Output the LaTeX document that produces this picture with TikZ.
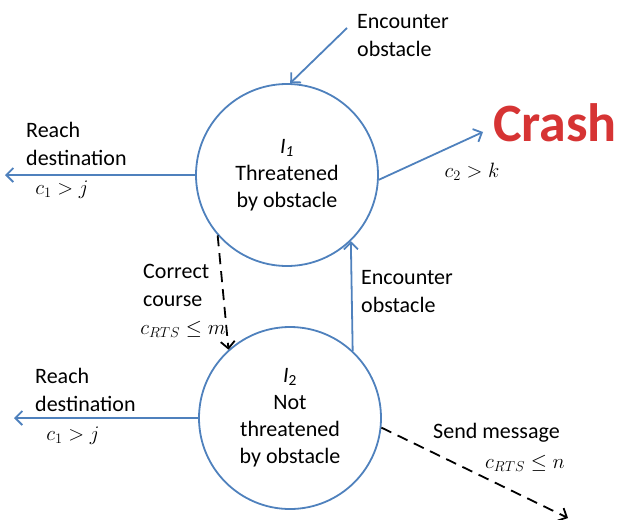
\documentclass[tikz,border=0pt]{standalone}
\usepackage{fontspec}
\setmainfont{Carlito}
\usetikzlibrary{arrows.meta}
\definecolor{cblue}{RGB}{79,129,189}
\definecolor{crashred}{RGB}{214,52,52}
\begin{document}
\begin{tikzpicture}[x=1pt,y=-1pt,
  state/.style={circle,draw=cblue,line width=1.8pt,minimum size=182pt,inner sep=0pt,align=center,font=\fontsize{22}{27}\selectfont},
  lbl/.style={align=left,anchor=west,inner sep=0pt,font=\fontsize{22}{28}\selectfont},
  mth/.style={inner sep=0pt,font=\fontsize{20}{24}\selectfont},
  barrow/.style={draw=cblue,line width=1.8pt,-{Straight Barb[length=7pt,width=14pt]}},
  darrow/.style={draw=black,line width=1.8pt,dash pattern=on 11pt off 7pt,-{Straight Barb[length=7pt,width=14pt]}}]
\useasboundingbox (0,0) rectangle (620,519);

% states
\node[state] (top) at (287,175) {\textit{I}\textsubscript{\itshape 1}\\Threatened\\by obstacle};
\node[state] (bot) at (290,418) {\textit{I}\textsubscript{2}\\Not\\threatened\\by obstacle};

% free ends
\coordinate (topleft) at (5,175);
\coordinate (botleft) at (14,418);
\coordinate (encstart) at (347,28);
\coordinate (crashend) at (483,132);
\coordinate (sendend) at (568,518);

% connectors
\draw[barrow] (encstart) -- (top.88);
\draw[barrow] (top.west) -- (topleft);
\draw[barrow] (top.-3) -- (crashend);
\draw[darrow] (top.221) -- (bot.132);
\draw[barrow] (bot.47) -- (top.-46);
\draw[barrow] (bot.west) -- (botleft);
\draw[darrow] (bot.-6) -- (sendend);

% labels
\node[lbl] (lenc1) at (357,36) {Encounter\\obstacle};
\node[lbl] (lreach1) at (26,144) {Reach\\destination};
\node[mth] (lc1a) at (62,190) {$c_1 > j$};
\node[mth] (lc2) at (472,172) {$c_2 > k$};
\node[inner sep=0pt,text=crashred,font=\fontsize{54}{60}\selectfont\bfseries] (crash) at (555,123) {Crash};
\node[lbl] (lcorr) at (143,285) {Correct\\course};
\node[mth] (lm) at (183,329) {$c_{RTS} \le m$};
\node[lbl] (lenc2) at (361,292) {Encounter\\obstacle};
\node[lbl] (lreach2) at (35,390) {Reach\\destination};
\node[mth] (lc1b) at (73,436) {$c_1 > j$};
\node[lbl] (lsend) at (433,433) {Send message};
\node[mth] (ln) at (525,463) {$c_{RTS} \le n$};
\end{tikzpicture}
\end{document}
